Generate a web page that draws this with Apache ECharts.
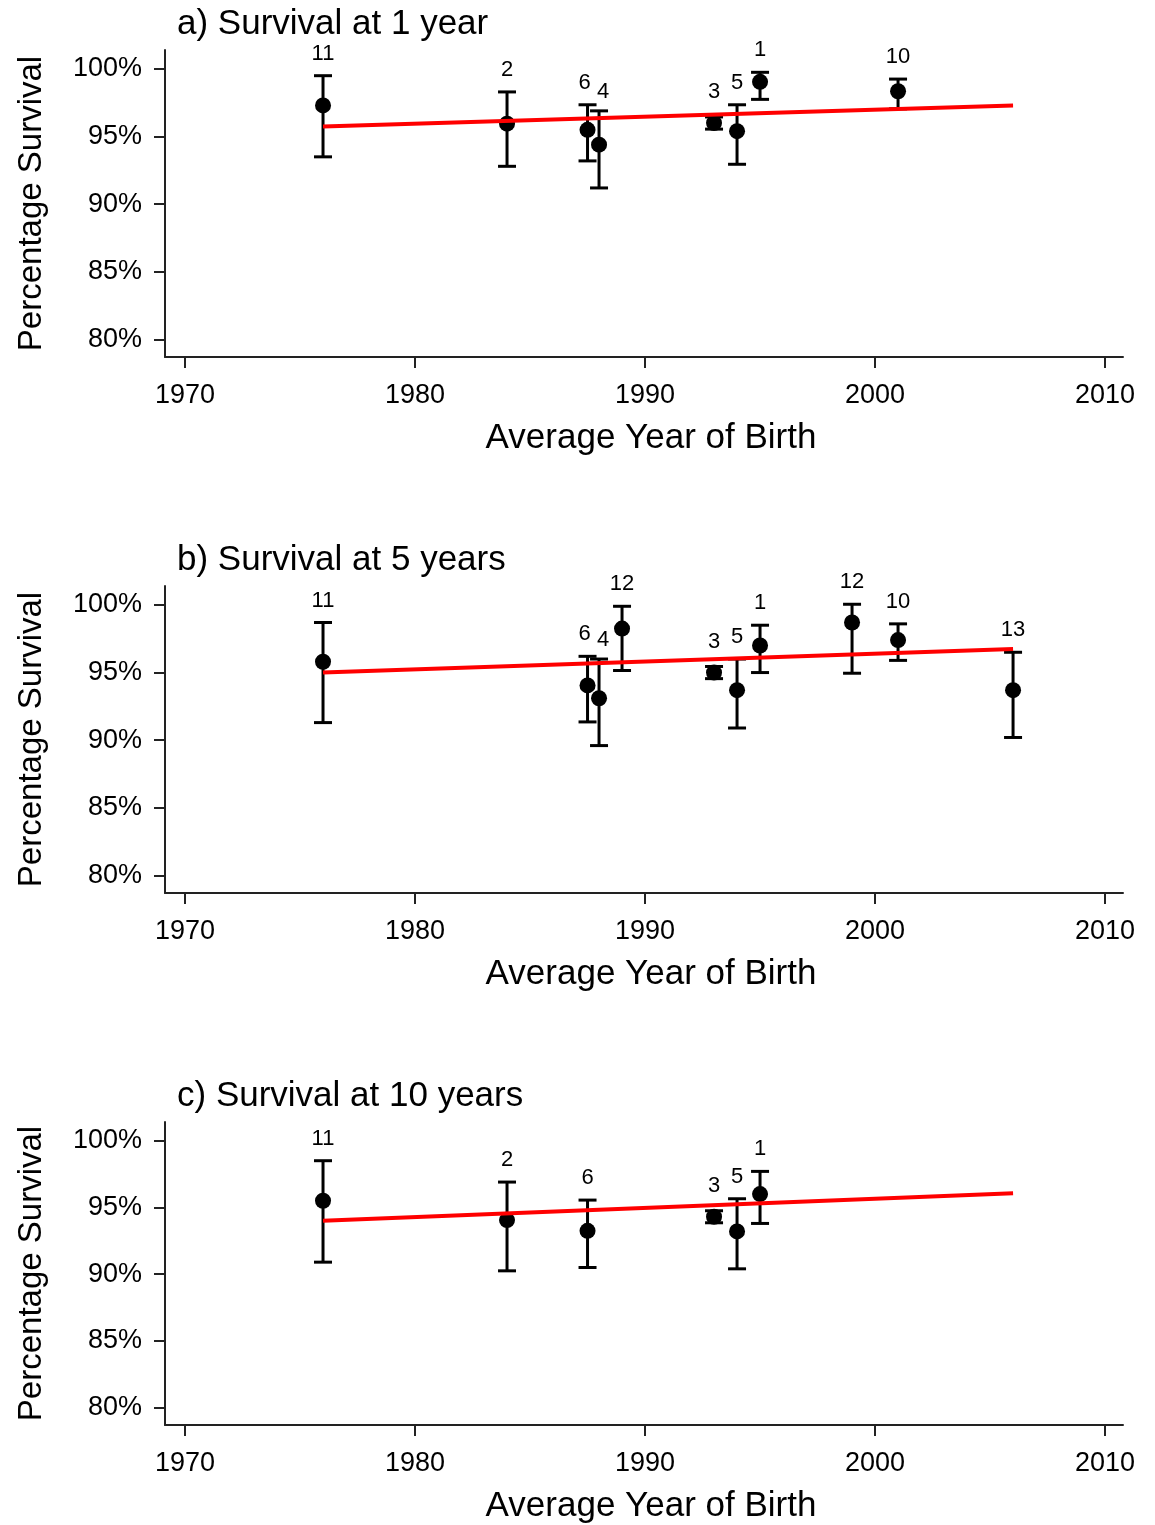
<!DOCTYPE html>
<html>
<head>
<meta charset="utf-8">
<script src="https://cdn.jsdelivr.net/npm/echarts@6/dist/echarts.min.js"></script>
<style>
html,body{margin:0;padding:0;background:#fff;}
#chart{width:1155px;height:1525px;}
</style>
</head>
<body>
<div id="chart"></div>
<script>
// ---------- DATA ----------
const titles = ["a) Survival at 1 year", "b) Survival at 5 years", "c) Survival at 10 years"];
const xTicks = [1970, 1980, 1990, 2000, 2010];
const yTicks = [80, 85, 90, 95, 100];

const idsA   = ["11", "2", "6", "4", "3", "5", "1", "10"];
const yearsA = [1976, 1984, 1987.5, 1988, 1993, 1994, 1995, 2001];
const survA  = [97.3, 95.95, 95.5, 94.4, 96.0, 95.4, 99.05, 98.35];
const lowA   = [93.5, 92.8, 93.2, 91.2, 95.55, 92.95, 97.75, 97.05];
const highA  = [99.5, 98.3, 97.35, 96.9, 96.45, 97.35, 99.75, 99.25];
const fitXA  = [1976, 2006];
const fitYA  = [95.75, 97.3];

const idsB   = ["11", "6", "4", "12", "3", "5", "1", "12", "10", "13"];
const yearsB = [1976, 1987.5, 1988, 1989, 1993, 1994, 1995, 1999, 2001, 2006];
const survB  = [95.8, 94.05, 93.1, 98.25, 95.0, 93.7, 97.0, 98.7, 97.4, 93.7];
const lowB   = [91.3, 91.35, 89.6, 95.15, 94.55, 90.9, 95.0, 94.95, 95.9, 90.2];
const highB  = [98.7, 96.2, 96.0, 99.9, 95.45, 96.0, 98.5, 100.05, 98.6, 96.5];
const fitXB  = [1976, 2006];
const fitYB  = [95.0, 96.75];

const idsC   = ["11", "2", "6", "3", "5", "1"];
const yearsC = [1976, 1984, 1987.5, 1993, 1994, 1995];
const survC  = [95.5, 94.05, 93.25, 94.3, 93.2, 96.0];
const lowC   = [90.9, 90.25, 90.5, 93.85, 90.4, 93.8];
const highC  = [98.5, 96.9, 95.55, 94.75, 95.65, 97.7];
const fitXC  = [1976, 2006];
const fitYC  = [94.0, 96.07];

// ---------- BUILD ----------
const panels = [
  {ids: idsA, years: yearsA, surv: survA, low: lowA, high: highA, fx: fitXA, fy: fitYA},
  {ids: idsB, years: yearsB, surv: survB, low: lowB, high: highB, fx: fitXB, fy: fitYB},
  {ids: idsC, years: yearsC, surv: survC, low: lowC, high: highC, fx: fitXC, fy: fitYC}
];

const FONT = "'Liberation Sans', Arial, sans-serif";
const AXC = "#222222";
const step = 536;
const grids = [], xAxes = [], yAxes = [], series = [], graphics = [];

panels.forEach((p, i) => {
  const top = 50 + i * step;
  grids.push({left: 165, right: 32, top: top, height: 307, containLabel: false});
  graphics.push({
    type: "text", left: 177, top: 7 + i * step,
    style: {text: titles[i], font: "35px " + FONT, fill: "#000"}
  });
  xAxes.push({
    type: "value", gridIndex: i, min: 1969.13, max: 2010.78,
    splitLine: {show: false},
    axisLine: {show: true, lineStyle: {color: AXC, width: 2}},
    axisTick: {show: true, length: 11, lineStyle: {color: AXC, width: 2}, customValues: xTicks},
    axisLabel: {show: true, margin: 25, fontSize: 27, fontFamily: FONT, color: "#000", customValues: xTicks,
                formatter: v => String(v)},
    name: "Average Year of Birth", nameLocation: "middle", nameGap: 64,
    nameTextStyle: {fontSize: 35, fontFamily: FONT, color: "#000", padding: [0, 0, 0, 14]}
  });
  yAxes.push({
    type: "value", gridIndex: i, min: 78.7, max: 101.4,
    splitLine: {show: false},
    axisLine: {show: true, lineStyle: {color: AXC, width: 2}},
    axisTick: {show: true, length: 11, lineStyle: {color: AXC, width: 2}, customValues: yTicks},
    axisLabel: {show: true, margin: 23, fontSize: 27, fontFamily: FONT, color: "#000", customValues: yTicks,
                formatter: v => v + "%"},
    name: "Percentage Survival", nameLocation: "middle", nameGap: 117, nameRotate: 90,
    nameTextStyle: {fontSize: 33, fontFamily: FONT, color: "#000"}
  });

  const errData = p.years.map((x, k) => [x, p.surv[k], p.low[k], p.high[k], p.ids[k]]);
  series.push({
    type: "custom", xAxisIndex: i, yAxisIndex: i, z: 2,
    data: errData,
    renderItem: function (params, api) {
      const k = params.dataIndex;
      const x = api.value(0);
      const c = api.coord([x, api.value(1)]);
      const lo = api.coord([x, api.value(2)]);
      const hi = api.coord([x, api.value(3)]);
      const hw = 9;
      const st = {stroke: "#000", lineWidth: 3};
      // nudge labels apart when neighbouring points are very close
      let dx = 0, dy = 0;
      if (k + 1 < p.years.length && api.coord([p.years[k + 1], 0])[0] - c[0] < 16) dx = -3;
      if (k > 0 && c[0] - api.coord([p.years[k - 1], 0])[0] < 16) { dx = 4; dy = 3; }
      const labelY = Math.min(hi[1], c[1] - 9) - 11 + dy;
      return {
        type: "group",
        children: [
          {type: "line", shape: {x1: c[0], y1: lo[1], x2: c[0], y2: hi[1]}, style: st},
          {type: "line", shape: {x1: c[0] - hw, y1: lo[1], x2: c[0] + hw, y2: lo[1]}, style: st},
          {type: "line", shape: {x1: c[0] - hw, y1: hi[1], x2: c[0] + hw, y2: hi[1]}, style: st},
          {type: "text", style: {text: String(api.value(4)), x: c[0] + dx, y: labelY,
            textAlign: "center", textVerticalAlign: "bottom", font: "22px " + FONT, fill: "#000"}}
        ]
      };
    }
  });
  series.push({
    type: "scatter", xAxisIndex: i, yAxisIndex: i, z: 3,
    symbol: "circle", symbolSize: 16,
    itemStyle: {color: "#000", opacity: 1},
    data: p.years.map((x, k) => [x, p.surv[k]])
  });
  series.push({
    type: "line", xAxisIndex: i, yAxisIndex: i, z: 4,
    symbol: "none", lineStyle: {color: "#ff0000", width: 4},
    data: p.fx.map((x, k) => [x, p.fy[k]])
  });
});

const chart = echarts.init(document.getElementById("chart"), null, {renderer: "canvas"});
chart.setOption({
  backgroundColor: "#fff",
  animation: false,
  grid: grids,
  xAxis: xAxes,
  yAxis: yAxes,
  series: series,
  graphic: graphics
});
</script>
</body>
</html>
